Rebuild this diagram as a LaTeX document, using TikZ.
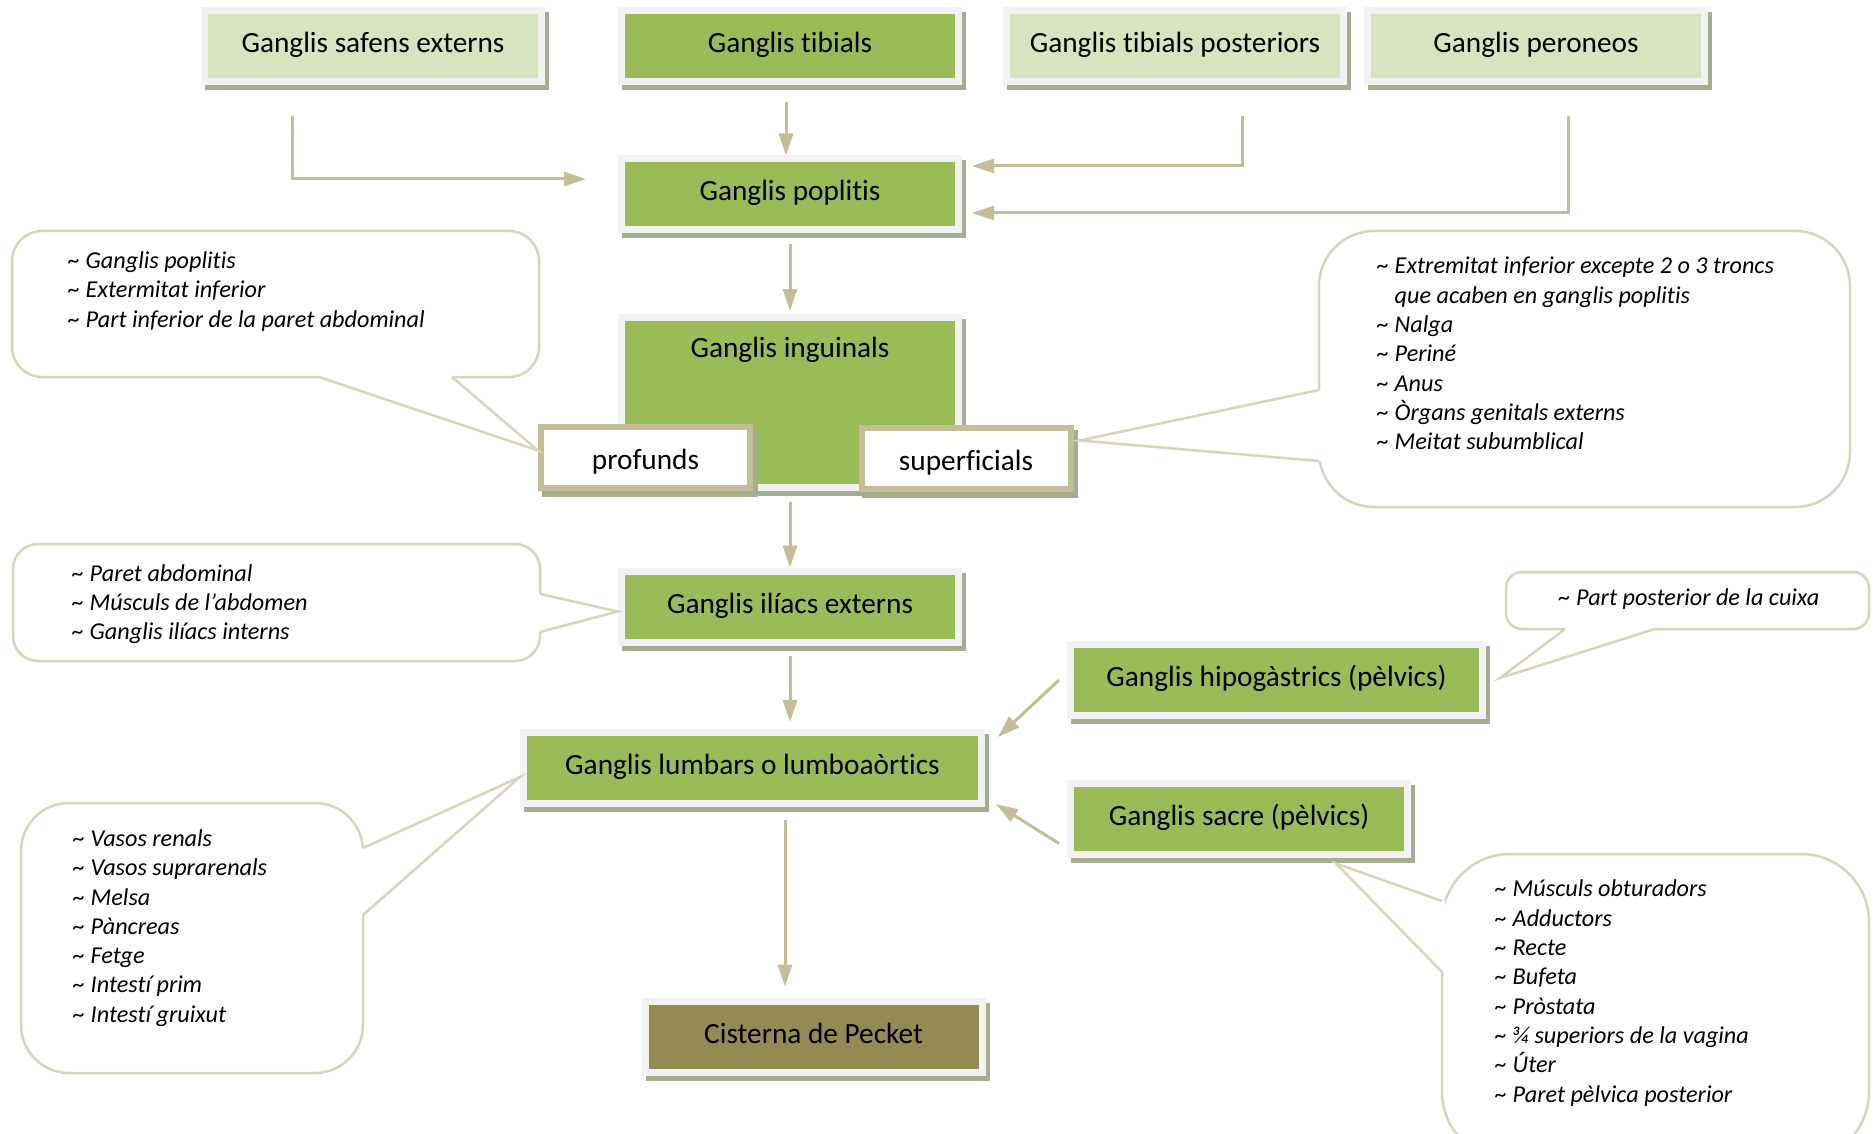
\documentclass[tikz,border=0pt]{standalone}
\usepackage{fontspec}
\setmainfont{Carlito}[Ligatures=NoCommon]
\usepackage{xcolor}
\usetikzlibrary{calc,arrows.meta,positioning}
\definecolor{darkg}{HTML}{9BBB59}
\definecolor{lightg}{HTML}{D7E4BD}
\definecolor{framec}{HTML}{F2F2F2}
\definecolor{shadc}{HTML}{A4AE8E}
\definecolor{tanc}{HTML}{C4BD97}
\definecolor{callc}{HTML}{D9D4BC}
\definecolor{cistc}{HTML}{948A54}
\newcommand{\tilda}{\textasciitilde\ }
\tikzset{
  ar/.style={-{Triangle[length=22pt,width=14pt]},line width=3pt,tanc},
  box/.style={draw=framec,line width=7pt,fill=darkg,minimum width=337pt,minimum height=71pt,inner sep=0pt,
    text height=20pt,text depth=7pt,font=\fontsize{29.3}{35}\selectfont,
    preaction={draw=shadc,fill=shadc,line width=7pt,transform canvas={shift={(4pt,-5pt)}}}},
  lbox/.style={box,fill=lightg},
  wbox/.style={box,draw=tanc,line width=6pt,fill=white,minimum width=209pt,minimum height=61pt,
    text height=25pt,text depth=2pt},
  co/.style={draw=callc,line width=2.5pt,fill=white},
  cotxt/.style={anchor=west,inner sep=0pt,align=left,font=\fontsize{24.2}{29.3}\selectfont\itshape}
}
\begin{document}
\begin{tikzpicture}[x=1pt,y=-1pt]
\useasboundingbox (0,0) rectangle (1874,1134);
\fill[white] (0,0) rectangle (1874,1134);

\node[lbox] (safens) at (373,46) {Ganglis safens externs};
\node[box] (tibials) at (790,46) {Ganglis tibials};
\node[lbox] (tibpost) at (1175,46) {Ganglis tibials posteriors};
\node[lbox] (peroneos) at (1536,46) {Ganglis peroneos};
\node[box] (poplitis) at (790,194.5) {Ganglis poplitis};
\node[box,minimum height=170pt,text height=40pt,text depth=130pt] (inguinals) at (790,402.5) {Ganglis inguinals};
\node[wbox] (profunds) at (645.5,457.5) {profunds};
\node[wbox] (superf) at (966,458.5) {superficials};
\node[box] (iliacs) at (790,606.5) {Ganglis ilíacs externs};
\node[box,minimum width=458pt] (lumbars) at (752.5,768) {Ganglis lumbars o lumboaòrtics};
\node[box,minimum width=412pt] (hipog) at (1276.5,680) {Ganglis hipogàstrics (pèlvics)};
\node[box] (sacre) at (1239,818.5) {Ganglis sacre (pèlvics)};
\node[box,fill=cistc] (cisterna) at (813.5,1036.5) {Cisterna de Pecket};

\draw[ar,shorten <=17pt] ([xshift=-4pt]tibials.south) -- ([xshift=-4pt]poplitis.north);
\draw[ar,shorten <=31pt,shorten >=32pt] ([xshift=-81pt]safens.south) |- ([yshift=15.5pt]poplitis.west);
\draw[ar,shorten <=31pt,shorten >=10pt] ([xshift=67pt]tibpost.south) |- ([yshift=28.5pt]poplitis.east);
\draw[ar,shorten <=31pt,shorten >=10pt] ([xshift=32pt]peroneos.south) |- ([yshift=-18.5pt]poplitis.east);
\draw[ar,shorten <=10.5pt,shorten >=3pt] (poplitis) -- (inguinals);
\draw[ar,shorten <=11pt] (inguinals) -- (iliacs);
\draw[ar,shorten <=10pt,shorten >=7pt] (iliacs) -- (iliacs |- lumbars.north);
\draw[ar,shorten <=13pt,shorten >=11pt] ([xshift=32.5pt]lumbars.south) -- ([xshift=-28.5pt]cisterna.north);
\draw[ar] ([xshift=-8pt]hipog.west) -- ([xshift=13pt,yshift=-8pt]lumbars.north east);
\draw[ar] ([xshift=-8pt,yshift=-25pt]sacre.west) -- ([xshift=11pt,yshift=3pt]lumbars.south east);

\draw[co,rounded corners=30pt] (12,231) rectangle (539,377);
\fill[white] (319,374) -- (319,377) -- ([yshift=7pt]profunds.west) -- (452,377) -- (452,374) -- cycle;
\draw[co,fill=none] (319,377) -- ([yshift=7pt]profunds.west) -- (452,377);
\node[cotxt] (popnote) at (68,291.5) {\tilda Ganglis poplitis\\\tilda Extermitat inferior\\\tilda Part inferior de la paret abdominal};

\draw[co,rounded corners=55pt] (1319,231) rectangle (1850,507);
\fill[white] (1322,390) -- (1319,390) -- ([xshift=6pt,yshift=18pt]superf.east) -- (1319,461) -- (1322,461) -- cycle;
\draw[co,fill=none] (1319,390) -- ([xshift=6pt,yshift=18pt]superf.east) -- (1319,461);
\node[cotxt] (supnote) at (1377,353.5) {\tilda Extremitat inferior excepte 2 o 3 troncs\\\phantom{\tilda}que acaben en ganglis poplitis\\\tilda Nalga\\\tilda Periné\\\tilda Anus\\\tilda Òrgans genitals externs\\\tilda Meitat subumblical};

\draw[co,rounded corners=25pt] (13,544) rectangle (540,661);
\fill[white] (537,594) -- (540,594) -- ([yshift=-5pt]iliacs.west) -- (540,632) -- (537,632) -- cycle;
\draw[co,fill=none] (540,594) -- ([yshift=-5pt]iliacs.west) -- (540,632);
\node[cotxt] (ilinote) at (72,604) {\tilda Paret abdominal\\\tilda Músculs de l’abdomen\\\tilda Ganglis ilíacs interns};

\draw[co,rounded corners=16pt] (1506,572) rectangle (1869,629);
\fill[white] (1565,626) -- (1565,629) -- ([xshift=14pt,yshift=2pt]hipog.east) -- (1655,629) -- (1655,626) -- cycle;
\draw[co,fill=none] (1565,629) -- ([xshift=14pt,yshift=2pt]hipog.east) -- (1655,629);
\node[cotxt,anchor=center] (hipnote) at (1689,599) {\tilda Part posterior de la cuixa};

\draw[co,rounded corners=48pt] (21,803) rectangle (363,1073);
\fill[white] (360,848) -- (363,848) -- ([yshift=-9pt]lumbars.west) -- (363,915) -- (360,915) -- cycle;
\draw[co,fill=none] (363,848) -- ([yshift=-9pt]lumbars.west) -- (363,915);
\node[cotxt] (lumnote) at (73,928) {\tilda Vasos renals\\\tilda Vasos suprarenals\\\tilda Melsa\\\tilda Pàncreas\\\tilda Fetge\\\tilda Intestí prim\\\tilda Intestí gruixut};

\draw[co,rounded corners=68pt] (1442,854) rectangle (1869,1160);
\fill[white] (1445,901) -- (1442,901) -- ([xshift=97pt,yshift=-6pt]sacre.south) -- (1442,972) -- (1445,972) -- cycle;
\draw[co,fill=none] (1442,901) -- ([xshift=97pt,yshift=-6pt]sacre.south) -- (1442,972);
\node[cotxt] (sacnote) at (1495,993) {\tilda Músculs obturadors\\\tilda Adductors\\\tilda Recte\\\tilda Bufeta\\\tilda Pròstata\\\tilda ¾ superiors de la vagina\\\tilda Úter\\\tilda Paret pèlvica posterior};
\end{tikzpicture}
\end{document}
